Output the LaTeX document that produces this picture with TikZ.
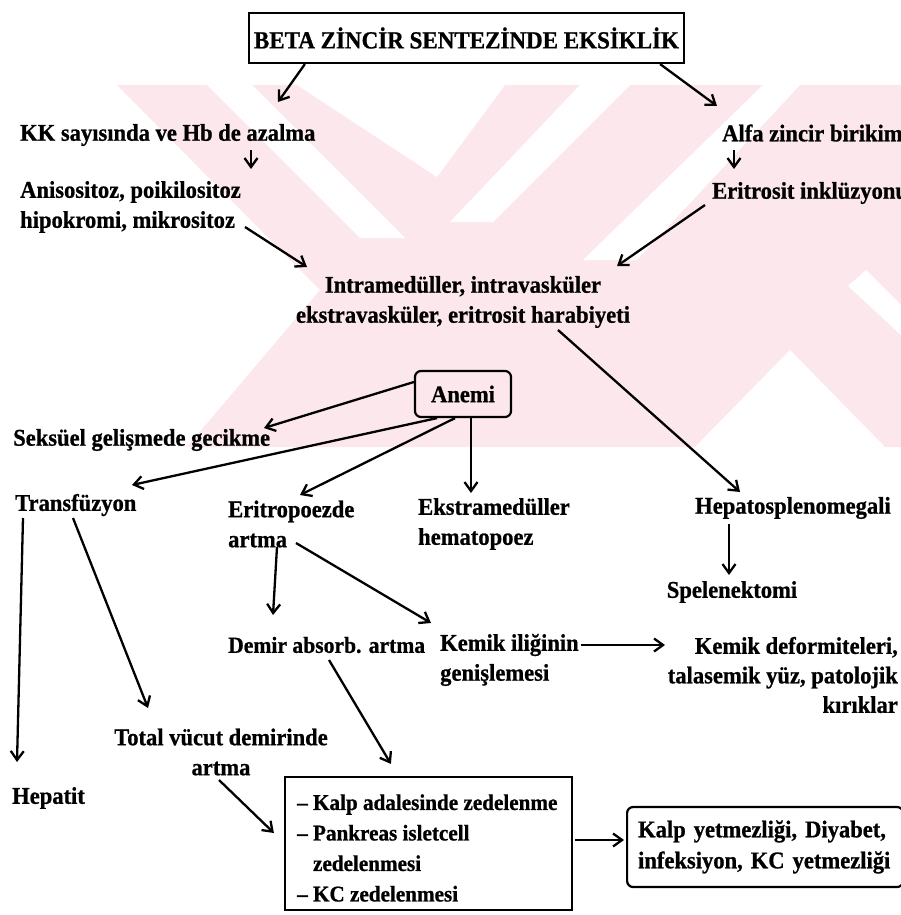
\documentclass[tikz,border=0pt]{standalone}
\usepackage{fontspec}
\setmainfont{Liberation Serif}[FakeStretch=0.94, BoldFeatures={FakeBold=0.8}]
\usetikzlibrary{arrows.meta,calc,fit}
\definecolor{wmpink}{RGB}{252,232,236}
\begin{document}
\begin{tikzpicture}[x=1pt,y=-1pt,
  txt/.style={inner sep=0pt, font=\fontsize{24}{30}\selectfont\bfseries},
  titlebox/.style={draw, line width=2.2pt, minimum width=435pt, minimum height=50pt, inner sep=0pt, font=\fontsize{24.5}{28}\selectfont\bfseries},
  roundbox/.style={draw, line width=2.2pt, rounded corners=6pt, inner sep=0pt, font=\fontsize{24}{30}\selectfont\bfseries},
  plainbox/.style={draw, line width=2.2pt, inner sep=0pt},
  arr/.style={line width=2.3pt, -{Straight Barb[length=9pt,width=13pt,line width=2.3pt]}},
  wm/.style={fill=wmpink, draw=none},
  wmw/.style={fill=white, draw=none}]
\useasboundingbox (0,0) rectangle (901,915);
\clip (0,0) rectangle (901,915);
\fill[white] (0,0) rectangle (901,915);
% watermark
\path[wm] (117,85) -- (901,85) -- (901,447) -- (187,447) -- (320,290) -- cycle;
\path[wmw] (207,85) -- (252,85) -- (405,238) -- (360,238) -- cycle;
\path[wmw] (297,85) -- (505,85) -- (437,177) -- cycle;
\path[wmw] (580,85) -- (630,85) -- (493,222) -- (450,222) -- cycle;
\path[wmw] (763,85) -- (800,85) -- (637,260) -- (583,260) -- cycle;
\path[wmw] (790,350) -- (885,447) -- (695,447) -- cycle;
\path[wmw] (848,286) -- (866,270) -- (901,305) -- (901,335) -- cycle;
% nodes
\node[titlebox] (title) at (466.5,38) {BETA ZİNCİR SENTEZİNDE EKSİKLİK};
\node[txt, anchor=west] (kk) at (20,135) {KK sayısında ve Hb de azalma};
\node[txt, anchor=west, align=left] (anis) at (20,207) {Anisositoz, poikilositoz\\hipokromi, mikrositoz};
\node[txt, anchor=west] (alfa) at (722,133) {Alfa zincir birikimi};
\node[txt, anchor=west] (erit) at (712,193) {Eritrosit inklüzyonu};
\node[txt, align=center] (intra) at (463,302) {Intramedüller, intravasküler\\ekstravasküler, eritrosit harabiyeti};
\node[roundbox, minimum width=96pt, minimum height=46pt] (anemi) at (463,394) {Anemi};
\node[txt, anchor=west] (seks) at (13,440) {Seksüel gelişmede gecikme};
\node[txt, anchor=west] (trans) at (15,505) {Transfüzyon};
\node[txt, anchor=west, align=left] (eritro) at (228,524) {Eritropoezde\\artma};
\node[txt, anchor=west, align=left] (ekstra) at (418,524) {Ekstramedüller\\hematopoez};
\node[txt, anchor=west] (hepato) at (695,508) {Hepatosplenomegali};
\node[txt] (splen) at (732,592) {Spelenektomi};
\node[txt, anchor=west, font=\fontsize{23}{30}\selectfont\bfseries] (demir) at (228,645) {Demir absorb. artma};
\node[txt, anchor=west] (kemik) at (440,645) {Kemik iliğinin};
\node[txt, anchor=west] (genis) at (440,675) {genişlemesi};
\node[txt, anchor=east, align=right, font=\fontsize{24}{29.5}\selectfont\bfseries] (kdef) at (898,675) {Kemik deformiteleri,\\talasemik yüz, patolojik\\kırıklar};
\node[txt, align=center] (total) at (221,752) {Total vücut demirinde\\artma};
\node[txt, anchor=west] (hepatit) at (12,798) {Hepatit};
\node[txt, anchor=west, align=left, font=\fontsize{22.5}{30.5}\selectfont\bfseries] (lbtext) at (297,848) {– Kalp adalesinde zedelenme\\– Pankreas isletcell\\\phantom{– }zedelenmesi\\– KC zedelenmesi};
\node[plainbox, fit={(285,777) (572,910)}] (lbox) {};
\node[roundbox, anchor=west, align=left, minimum height=80pt, text width=254pt, inner xsep=11pt, font=\fontsize{24}{31}\selectfont\bfseries] (rbox) at (626,847) {Kalp yetmezliği, Diyabet,\\infeksiyon, KC yetmezliği};
% connectors
\draw[arr] ($(title.south west)+(57,0)$) -- ($(kk.west)+(258,-33)$);
\draw[arr] ($(title.south east)+(-25,0)$) -- ($(alfa.west)+(-5,-27)$);
\draw[arr] ($(kk.west)+(231,15)$) -- ($(anis.west)+(231,-38)$);
\draw[arr] ($(anis.west)+(225,20)$) -- ($(intra)+(-156,-35)$);
\draw[arr] ($(alfa.west)+(12,17)$) -- ($(erit.west)+(22,-24)$);
\draw[arr] ($(erit.west)+(-7,12)$) -- ($(intra)+(154,-36)$);
\draw[arr] ($(intra)+(95,28)$) -- ($(hepato.west)+(45,-16)$);
\draw[arr] ($(anemi.west)+(0,-12)$) -- ($(seks.west)+(251,-12)$);
\draw[arr] ($(anemi.south)+(-26,0)$) -- ($(trans.west)+(117,-20)$);
\draw[arr] ($(anemi.south)+(-8,0)$) -- ($(eritro.west)+(72,-29)$);
\draw[arr] ($(anemi.south)+(8,0)$) -- ($(ekstra.west)+(53,-31)$);
\draw[arr] ($(hepato.west)+(34,16)$) -- ($(splen)+(-3,-17)$);
\draw[arr] ($(trans.west)+(8,13)$) -- ($(hepatit.west)+(5,-36)$);
\draw[arr] ($(trans.west)+(58,13)$) -- ($(total)+(-73,-44)$);
\draw[arr] ($(eritro.west)+(49,23)$) -- ($(demir.west)+(45,-30)$);
\draw[arr] ($(eritro.west)+(68,19)$) -- ($(kemik.west)+(-9,-22)$);
\draw[arr] ($(kemik.east)+(2,0)$) -- ($(kdef.east)+(-233,-30)$);
\draw[arr] ($(demir.west)+(101,15)$) -- ($(lbox.north west)+(107,-12)$);
\draw[arr] ($(total)+(-2,28)$) -- ($(lbox.west)+(-10,-10.5)$);
\draw[arr] ($(lbox.east)+(2,-3.5)$) -- ($(rbox.west)+(-2,-7)$);
\end{tikzpicture}
\end{document}
